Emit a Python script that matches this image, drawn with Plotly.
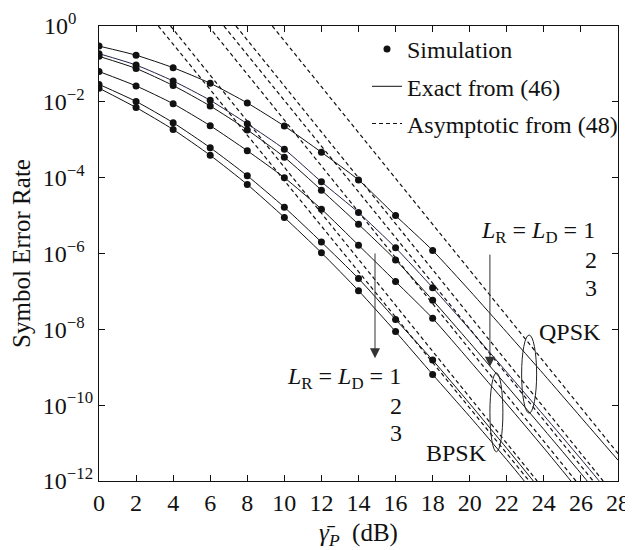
import plotly.graph_objects as go

# ---------------- data (log10 of symbol error rate) ----------------
snr_sim = [0, 2, 4, 6, 8, 10, 12, 14, 16, 18]
snr_exact = [0, 2, 4, 6, 8, 10, 12, 14, 16, 18, 20, 22, 24, 26, 28]

curve_names = ["QPSK L=1", "QPSK L=2", "QPSK L=3", "BPSK L=1", "BPSK L=2", "BPSK L=3"]

sim_qpsk1 = [-0.53, -0.77, -1.10, -1.51, -2.03, -2.64, -3.33, -4.06, -5.00, -5.92]
sim_qpsk2 = [-0.73, -1.03, -1.45, -1.96, -2.58, -3.25, -4.11, -4.92, -5.85, -6.90]
sim_qpsk3 = [-0.80, -1.12, -1.57, -2.11, -2.74, -3.46, -4.33, -5.23, -6.17, -7.23]
sim_bpsk1 = [-1.20, -1.58, -2.05, -2.63, -3.29, -4.00, -4.83, -5.78, -6.74, -7.71]
sim_bpsk2 = [-1.54, -1.99, -2.55, -3.21, -3.95, -4.78, -5.70, -6.66, -7.74, -8.81]
sim_bpsk3 = [-1.64, -2.15, -2.73, -3.41, -4.18, -5.05, -5.98, -6.98, -8.06, -9.19]

exact_qpsk1 = sim_qpsk1 + [-6.98, -8.08, -9.19, -10.32, -11.45]
exact_qpsk2 = sim_qpsk2 + [-8.00, -9.13, -10.27, -11.42, -12.60]
exact_qpsk3 = sim_qpsk3 + [-8.35, -9.49, -10.64, -11.80, -12.99]
exact_bpsk1 = sim_bpsk1 + [-8.83, -9.97, -11.13, -12.32, -13.50]
exact_bpsk2 = sim_bpsk2 + [-9.96, -11.14, -12.34, -13.50, -14.70]
exact_bpsk3 = sim_bpsk3 + [-10.30, -11.44, -12.63, -13.80, -15.00]

# asymptotic straight lines: SNR where each crosses 10^0 and 10^-12
asym_snr_at_top = [9.35, 7.39, 6.74, 5.90, 3.86, 3.20]
asym_snr_at_bottom = [29.20, 27.20, 26.66, 25.73, 23.64, 23.21]
asym_log_top = 0
asym_log_bottom = -12

x_ticks = list(range(0, 29, 2))
y_tick_exp = [0, -2, -4, -6, -8, -10, -12]

sims = [sim_qpsk1, sim_qpsk2, sim_qpsk3, sim_bpsk1, sim_bpsk2, sim_bpsk3]
exacts = [exact_qpsk1, exact_qpsk2, exact_qpsk3, exact_bpsk1, exact_bpsk2, exact_bpsk3]
line_colors = ["#111111", "#22224a", "#111111", "#111111", "#111111", "#111111"]

FONT = "Liberation Serif, Times New Roman, serif"
FS = 24

fig = go.Figure()

# exact curves
for i, (name, ys) in enumerate(zip(curve_names, exacts)):
    fig.add_trace(go.Scatter(
        x=snr_exact, y=[10 ** v for v in ys], mode="lines",
        line=dict(color=line_colors[i], width=1, shape="spline", smoothing=0.6),
        name="Exact from (46)", legendgroup="b", showlegend=(i == 0),
        legendrank=2,
    ))

# asymptotic lines
for i, name in enumerate(curve_names):
    fig.add_trace(go.Scatter(
        x=[asym_snr_at_top[i], asym_snr_at_bottom[i]],
        y=[10 ** asym_log_top, 10 ** asym_log_bottom], mode="lines",
        line=dict(color="#111111", width=1.2, dash="4px,3px"),
        name="Asymptotic from (48)", legendgroup="c", showlegend=(i == 0),
        legendrank=3,
    ))

# simulation points
for i, (name, ys) in enumerate(zip(curve_names, sims)):
    fig.add_trace(go.Scatter(
        x=snr_sim, y=[10 ** v for v in ys], mode="markers",
        marker=dict(color="#111111", size=7),
        name="Simulation", legendgroup="a", showlegend=(i == 0),
        legendrank=1,
    ))

axis_common = dict(
    showline=True, linecolor="#111111", linewidth=1.3, mirror="ticks",
    ticks="inside", ticklen=6, tickwidth=1, tickcolor="#111111",
    showgrid=False, zeroline=False, automargin=False,
    tickfont=dict(family=FONT, size=FS, color="#111111"),
)

fig.update_xaxes(
    range=[0, 28], tickvals=x_ticks, ticktext=[str(t) for t in x_ticks],
    title=dict(text="<i>γ\u0304</i><sub><i>P</i></sub>  (dB)",
               font=dict(family=FONT, size=FS + 1, color="#111111"), standoff=9),
    **axis_common,
)


def exp_label(e):
    s = str(e).replace("-", "\u2212")
    # pad with figure spaces so the "10" bases line up on the left
    pad = {1: "\u2007\u2007", 2: "\u2007"}.get(len(s), "")
    return "10<sup>%s%s</sup>" % (s, pad)


fig.update_yaxes(
    type="log", range=[-12, 0],
    tickvals=[10 ** e for e in y_tick_exp],
    ticktext=[exp_label(e) for e in y_tick_exp],
    title=dict(text="Symbol Error Rate",
               font=dict(family=FONT, size=FS + 1, color="#111111"), standoff=6),
    **axis_common,
)

def px_x(p):
    return (p - 99) / 519.0

def px_y(p):
    return (481 - p) / 455.0

ann_font = dict(family=FONT, size=FS, color="#111111")
lbl = "<i>L</i><sub>R</sub> = <i>L</i><sub>D</sub> = 1"
annotations = [
    dict(text=lbl, x=px_x(597), y=px_y(232), xanchor="right", yanchor="middle"),
    dict(text="2", x=px_x(599), y=px_y(260), xanchor="right", yanchor="middle"),
    dict(text="3", x=px_x(599), y=px_y(288), xanchor="right", yanchor="middle"),
    dict(text=lbl, x=px_x(403), y=px_y(378), xanchor="right", yanchor="middle"),
    dict(text="2", x=px_x(404), y=px_y(406), xanchor="right", yanchor="middle"),
    dict(text="3", x=px_x(404), y=px_y(433), xanchor="right", yanchor="middle"),
    dict(text="QPSK", x=px_x(570), y=px_y(332), xanchor="center", yanchor="middle"),
    dict(text="BPSK", x=px_x(456), y=px_y(453), xanchor="center", yanchor="middle"),
]
for a in annotations:
    a.update(xref="paper", yref="paper", showarrow=False, font=ann_font)

# arrows (data coords, y in log10 for annotations on log axis)
arrow_x = [21.09, 14.89]
arrow_tail_log = [-5.99, -5.96]
arrow_tip_log = [-8.99, -8.76]
for ax_, t0, t1 in zip(arrow_x, arrow_tail_log, arrow_tip_log):
    annotations.append(dict(
        x=ax_, y=t1, ax=ax_, ay=t0, xref="x", yref="y", axref="x", ayref="y",
        text="", showarrow=True, arrowhead=2, arrowsize=2, arrowwidth=1,
        arrowcolor="#333333", standoff=0,
    ))

# ellipses around curve groups
ellipse_x = [(21.09, 21.79), (22.80, 23.61)]
ellipse_log = [(-11.23, -9.15), (-10.21, -8.15)]
shapes = []
for (x0, x1), (l0, l1) in zip(ellipse_x, ellipse_log):
    shapes.append(dict(type="circle", xref="x", yref="y",
                       x0=x0, x1=x1, y0=10 ** l0, y1=10 ** l1,
                       line=dict(color="#222222", width=1)))

# the page body keeps an 8px margin, so the figure is made 8px smaller
fig.update_layout(
    width=625, height=542,
    margin=dict(l=91, r=15, t=18, b=69, autoexpand=False),
    paper_bgcolor="white", plot_bgcolor="white",
    font=dict(family=FONT, size=FS, color="#111111"),
    annotations=annotations, shapes=shapes,
    legend=dict(x=px_x(367), y=px_y(27), xanchor="left", yanchor="top",
                bgcolor="rgba(0,0,0,0)", borderwidth=0,
                font=dict(family=FONT, size=FS, color="#111111"),
                traceorder="grouped", tracegroupgap=3, itemwidth=30),
    showlegend=True,
)

fig.write_html("out.html")
